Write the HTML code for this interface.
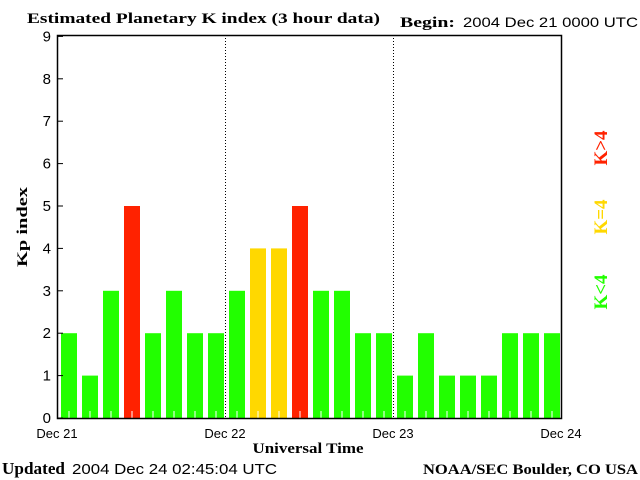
<!DOCTYPE html>
<html><head><meta charset="utf-8"><style>
body{margin:0;background:#fff;width:640px;height:480px;overflow:hidden}
svg{display:block}
</style></head><body>
<svg id="chart" width="640" height="480" xmlns="http://www.w3.org/2000/svg" font-family="Liberation Sans, sans-serif">
<text x="27" y="23" font-family="Liberation Serif, serif" font-weight="bold" font-size="15" textLength="353" lengthAdjust="spacingAndGlyphs">Estimated Planetary K index (3 hour data)</text>
<text x="400" y="27" font-family="Liberation Serif, serif" font-weight="bold" font-size="15" textLength="55" lengthAdjust="spacingAndGlyphs">Begin:</text>
<text x="463" y="27" font-size="14" textLength="175" lengthAdjust="spacingAndGlyphs">2004 Dec 21 0000 UTC</text>
<text transform="translate(27,227) rotate(-90)" text-anchor="middle" font-family="Liberation Serif, serif" font-weight="bold" font-size="15" textLength="80" lengthAdjust="spacingAndGlyphs">Kp index</text>
<text x="308" y="453" text-anchor="middle" font-family="Liberation Serif, serif" font-weight="bold" font-size="15" textLength="111" lengthAdjust="spacingAndGlyphs">Universal Time</text>
<text x="2" y="474" font-family="Liberation Serif, serif" font-weight="bold" font-size="17" textLength="63" lengthAdjust="spacingAndGlyphs">Updated</text>
<text x="72" y="474" font-size="15" textLength="205" lengthAdjust="spacingAndGlyphs">2004 Dec 24 02:45:04 UTC</text>
<text x="423" y="474" font-family="Liberation Serif, serif" font-weight="bold" font-size="15" textLength="215" lengthAdjust="spacingAndGlyphs">NOAA/SEC Boulder, CO USA</text>
<text transform="translate(607,148) rotate(-90)" text-anchor="middle" font-family="Liberation Serif, serif" font-weight="bold" font-size="19" fill="#ff2200">K&gt;4</text>
<text transform="translate(607,217) rotate(-90)" text-anchor="middle" font-family="Liberation Serif, serif" font-weight="bold" font-size="19" fill="#ffd800">K=4</text>
<text transform="translate(607,292) rotate(-90)" text-anchor="middle" font-family="Liberation Serif, serif" font-weight="bold" font-size="19" fill="#22ff00">K&lt;4</text>
<g id="plot"></g>
</svg>
<script>
const kpValues=[2,1,3,5,2,3,2,2,3,4,4,5,3,3,2,2,1,2,1,1,1,2,2,2];
const yTicks=[0,1,2,3,4,5,6,7,8,9];
const dayLabels=["Dec 21","Dec 22","Dec 23","Dec 24"];
const NS="http://www.w3.org/2000/svg";
const L=57,R=561,T=35,B=418,unit=42.4;
const y=v=>B-v*unit;
const slot=(R-L)/kpValues.length;
const x=i=>L+i*slot;
const g=document.getElementById('plot');
function mk(t,a){const e=document.createElementNS(NS,t);for(const k in a)e.setAttribute(k,a[k]);g.appendChild(e);return e;}
kpValues.forEach((v,i)=>{
 const c=v>4?'#ff2200':(v==4?'#ffd800':'#22ff00');
 const r=mk('rect',{x:x(i)+4,y:y(v),width:16,height:B-y(v),fill:c});
 
 
 const t=mk('line',{x1:x(i)+12,x2:x(i)+12,y1:B-7,y2:B,stroke:'#fff'});
 
 
});
dayLabels.forEach((d,i)=>{
 const xx=L+i*8*slot;
 if(i>0&&i<3){const l=mk('line',{x1:xx+0.5,x2:xx+0.5,y1:T,y2:B,stroke:'#000','stroke-dasharray':'1,2'});
 
 }
 const t=mk('text',{x:xx,y:438,'text-anchor':'middle','font-size':'13'});
 t.textContent=d;
 
 
});
yTicks.forEach(v=>{
 const l=mk('line',{x1:L,x2:L+6,y1:y(v),y2:y(v),stroke:'#000'});
 
 
 const t=mk('text',{x:L-6,y:y(v)+5,'text-anchor':'end','font-size':'15'});
 t.textContent=v;
 
 
});
const f=mk('rect',{x:L+0.5,y:T+0.5,width:R-L,height:B-T,fill:'none',stroke:'#000','stroke-width':1.5});


</script>
</body></html>
